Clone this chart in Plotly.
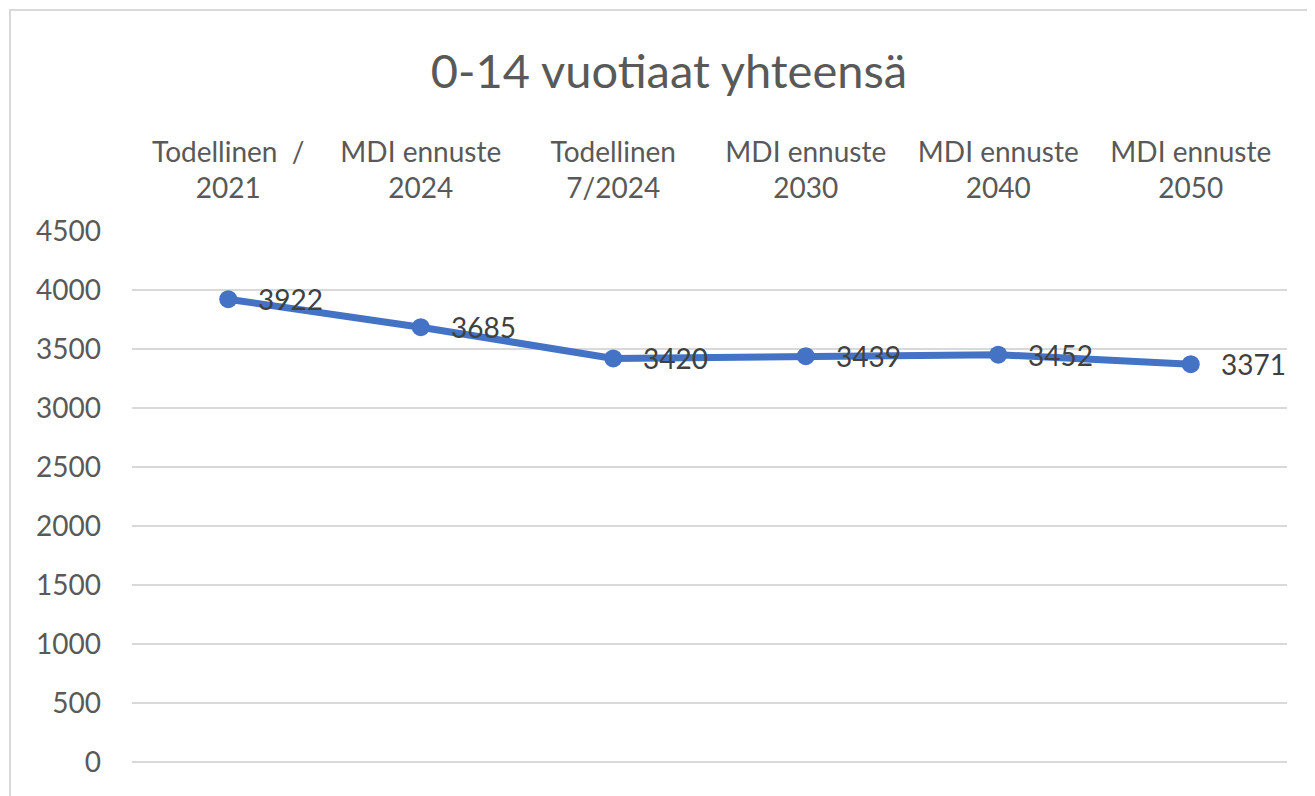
import plotly.graph_objects as go

# Data
categories = [
    "Todellinen  /<br>2021",
    "MDI ennuste<br>2024",
    "Todellinen<br>7/2024",
    "MDI ennuste<br>2030",
    "MDI ennuste<br>2040",
    "MDI ennuste<br>2050",
]
values = [3922, 3685, 3420, 3439, 3452, 3371]
y_ticks = [0, 500, 1000, 1500, 2000, 2500, 3000, 3500, 4000, 4500]

title_text = "0-14 vuotiaat yhteensä"

FONT = "Lato, Calibri, Carlito, sans-serif"
GRAY = "#595959"
GRID = "#d9d9d9"
BLUE = "#4472C4"

# page body has an 8px margin, so the figure is a bit smaller than the window
W, H = 1307, 788
L, R, T, B = 124, 28, 223, 34
pw, ph = W - L - R, H - T - B

fig = go.Figure()

fig.add_trace(go.Scatter(
    x=categories,
    y=values,
    mode="lines+markers",
    line=dict(color=BLUE, width=7),
    marker=dict(color=BLUE, size=18),
    hoverinfo="x+y",
    showlegend=False,
))

# Data labels to the right of each point
for c, v in zip(categories, values):
    fig.add_annotation(
        x=c, y=v, text=str(v),
        showarrow=False, xanchor="left", yanchor="middle",
        xshift=28,
        font=dict(family=FONT, size=28, color="#404040"),
    )

# Light border around the chart area (open on the right and bottom)
fig.add_shape(
    type="rect", xref="paper", yref="paper",
    x0=(2 - L) / pw, x1=(W + 20 - L) / pw,
    y0=-(B + 20) / ph, y1=(ph + T - 2) / ph,
    line=dict(color=GRID, width=2), fillcolor="rgba(0,0,0,0)",
    layer="below",
)

fig.update_layout(
    width=W,
    height=H,
    margin=dict(l=L, r=R, t=T, b=B),
    paper_bgcolor="white",
    plot_bgcolor="white",
    font=dict(family=FONT, color=GRAY),
    title=dict(
        text=title_text,
        x=661 / W, xanchor="center", xref="container",
        y=1 - 64 / H, yanchor="middle", yref="container",
        font=dict(family=FONT, size=47, color=GRAY),
    ),
    xaxis=dict(
        type="category",
        side="top",
        range=[-0.5, len(categories) - 0.5],
        showgrid=False,
        showline=False,
        zeroline=False,
        ticks="",
        ticklabelstandoff=26,
        tickfont=dict(family=FONT, size=28, color=GRAY),
    ),
    yaxis=dict(
        range=[0, 4500],
        tickvals=y_ticks,
        showgrid=True,
        gridcolor=GRID,
        gridwidth=2,
        zeroline=True,
        zerolinecolor=GRID,
        zerolinewidth=2,
        showline=False,
        ticks="",
        ticklabelstandoff=30,
        tickfont=dict(family=FONT, size=28, color=GRAY),
    ),
)

fig.write_html("out.html")
